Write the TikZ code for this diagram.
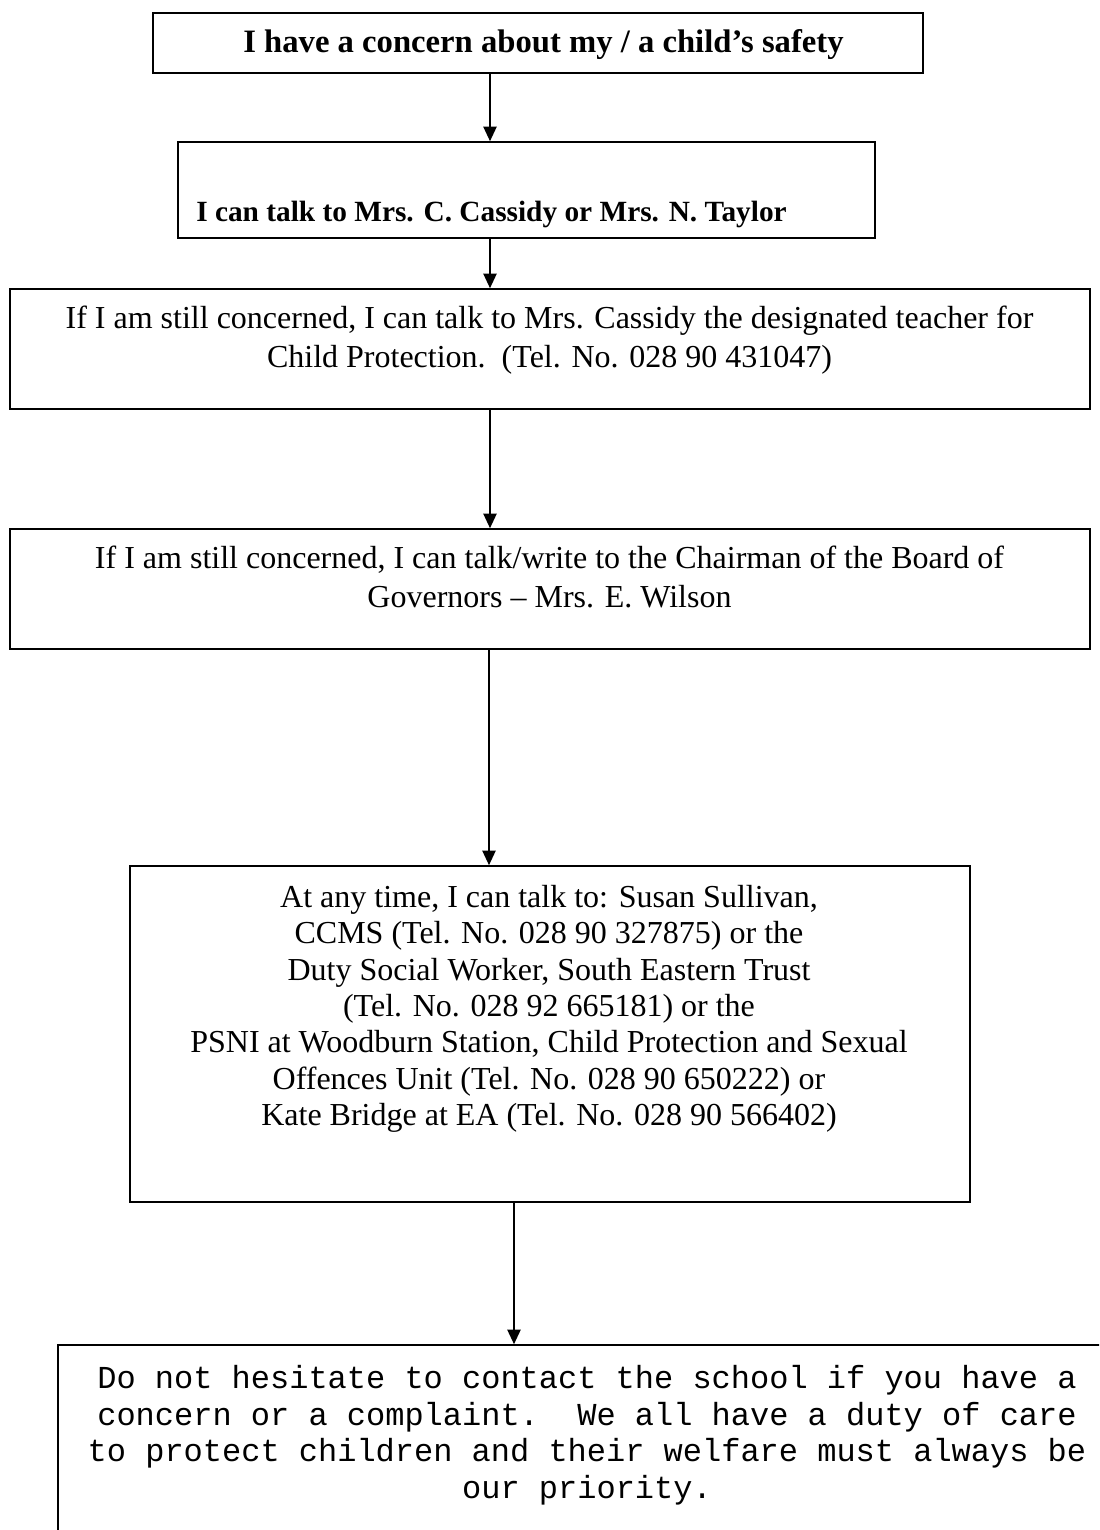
\documentclass[tikz,border=0pt]{standalone}
\usepackage{fontspec}
\setmainfont{Liberation Serif}
\setmonofont{Liberation Mono}
\usetikzlibrary{arrows.meta}
\begin{document}
\begin{tikzpicture}[x=0.75pt,y=-0.75pt,
  boxst/.style={draw,line width=1.2pt,inner sep=0pt,rectangle},
  txt/.style={inner sep=0pt,align=center,anchor=north},
  arr/.style={line width=1.2pt,-{Triangle[length=11pt,width=10pt]}}]
\useasboundingbox (0,0) rectangle (1099,1530);
% boxes (pixel coordinates, y downwards)
\node[boxst,minimum width=577.5pt,minimum height=45pt] (b1) at (538,43) {};
\node[boxst,minimum width=522.75pt,minimum height=72pt] (b2) at (526.5,190) {};
\node[boxst,minimum width=810pt,minimum height=90pt] (b3) at (550,349) {};
\node[boxst,minimum width=810pt,minimum height=90pt] (b4) at (550,589) {};
\node[boxst,minimum width=630pt,minimum height=252pt] (b5) at (550,1034) {};
\begin{scope}
\clip (0,0) rectangle (1099,1530);
\node[boxst,minimum width=810pt,minimum height=180pt] (b6) at (598,1465) {};
\end{scope}
% texts
\node[inner sep=0pt,anchor=base,font=\fontsize{24.5}{29}\selectfont\bfseries] (t1) at (543.5,53) {I have a concern about my / a child’s safety};
\node[inner sep=0pt,anchor=base west,font=\fontsize{22}{27}\selectfont\bfseries] (t2) at (196,222) {I can talk to Mrs. C. Cassidy or Mrs. N. Taylor};
\node[txt,font=\fontsize{24}{29.25}\selectfont] (t3) at (549.5,306) {If I am still concerned, I can talk to Mrs. Cassidy the designated teacher for\\Child Protection.\ \ (Tel. No. 028 90 431047)};
\node[txt,font=\fontsize{24}{29.25}\selectfont] (t4) at (549.5,546) {If I am still concerned, I can talk/write to the Chairman of the Board of\\Governors – Mrs. E. Wilson};
\node[txt,font=\fontsize{24}{27.25}\selectfont] (t5) at (549,885) {At any time, I can talk to: Susan Sullivan,\\CCMS (Tel. No. 028 90 327875) or the\\Duty Social Worker, South Eastern Trust\\(Tel. No. 028 92 665181) or the\\PSNI at Woodburn Station, Child Protection and Sexual\\Offences Unit (Tel. No. 028 90 650222) or\\Kate Bridge at EA (Tel. No. 028 90 566402)};
\node[txt,font=\fontsize{24}{27.5}\selectfont\ttfamily] (t6) at (587,1365) {Do not hesitate to contact the school if you have a\\concern or a complaint.\ \ We all have a duty of care\\to protect children and their welfare must always be\\our priority.};
% arrow columns
\coordinate (c1) at (490,0);
\coordinate (c4) at (489,0);
\coordinate (c5) at (514,0);
\draw[arr] (b1.south -| c1) -- (b2.north -| c1);
\draw[arr] (b2.south -| c1) -- (b3.north -| c1);
\draw[arr] (b3.south -| c1) -- (b4.north -| c1);
\draw[arr] (b4.south -| c4) -- (b5.north -| c4);
\draw[arr] (b5.south -| c5) -- (b6.north -| c5);
\end{tikzpicture}
\end{document}
